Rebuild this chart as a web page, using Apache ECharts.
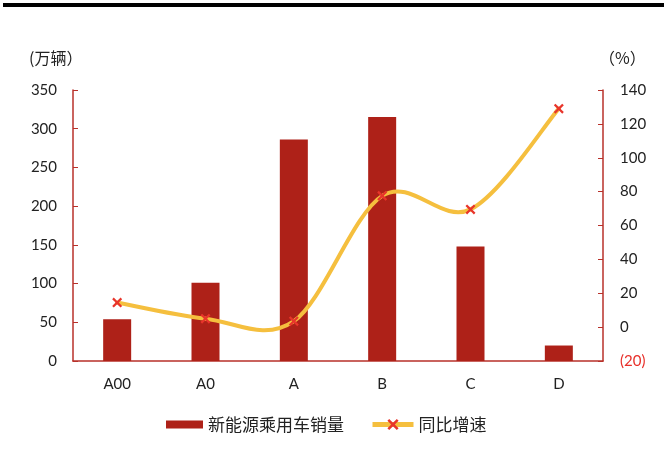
<!DOCTYPE html>
<html>
<head>
<meta charset="utf-8">
<script src="https://cdn.jsdelivr.net/npm/echarts@6/dist/echarts.min.js"></script>
<style>
  html, body { margin: 0; padding: 0; background: #fff; }
  #chart { width: 664px; height: 464px; }
</style>
</head>
<body>
<div id="chart"></div>
<script>
// Segment categories
const categories = ['A00', 'A0', 'A', 'B', 'C', 'D'];
// NEV passenger car sales (10k units)
const salesValues = [54, 101, 286, 315, 148, 20];
// Year-on-year growth (%)
const growthValues = [14.5, 5, 3.5, 77.5, 69.5, 129];

const salesName = '新能源乘用车销量';
const growthName = '同比增速';

const FONT = 'Lato, "Noto Sans CJK SC", sans-serif';
const CJK = '"Noto Sans CJK SC", sans-serif';
const AXIS_RED = '#B8312A';
const BAR_RED = '#AE2118';
const LINE_YELLOW = '#F5BF3E';
const MARK_RED = '#E8352B';

const xMark = 'path://M1.6,0 L5,3.4 L8.4,0 L10,1.6 L6.6,5 L10,8.4 L8.4,10 L5,6.6 L1.6,10 L0,8.4 L3.4,5 L0,1.6 Z';

// Smooth curve through the growth points (Catmull-Rom style bezier segments)
function renderGrowthCurve(params, api) {
  if (params.dataIndex !== 0) return null;
  const pts = growthValues.map(function (v, i) { return api.coord([i, v]); });
  const n = pts.length;
  const children = [];
  for (let i = 0; i < n - 1; i++) {
    const p0 = pts[Math.max(i - 1, 0)];
    const p1 = pts[i];
    const p2 = pts[i + 1];
    const p3 = pts[Math.min(i + 2, n - 1)];
    children.push({
      type: 'bezierCurve',
      shape: {
        x1: p1[0], y1: p1[1],
        cpx1: p1[0] + (p2[0] - p0[0]) / 6, cpy1: p1[1] + (p2[1] - p0[1]) / 6,
        cpx2: p2[0] - (p3[0] - p1[0]) / 6, cpy2: p2[1] - (p3[1] - p1[1]) / 6,
        x2: p2[0], y2: p2[1]
      },
      style: { fill: null, stroke: LINE_YELLOW, lineWidth: 4, lineCap: 'round' }
    });
  }
  return { type: 'group', children: children };
}

const chart = echarts.init(document.getElementById('chart'), null, { renderer: 'canvas' });

chart.setOption({
  animation: false,
  backgroundColor: '#fff',
  grid: { left: 73, right: 61, top: 90, bottom: 103 },
  graphic: [
    { type: 'rect', left: 3, top: 3, shape: { width: 661, height: 4 }, style: { fill: '#000' } },
    { type: 'text', left: 29, top: 50, style: { text: '(万辆）', font: '16px ' + CJK, fill: '#222' } },
    { type: 'text', left: 599, top: 50, style: { text: '（%）', font: '16px ' + CJK, fill: '#222' } }
  ],
  legend: [
    {
      left: 161, top: 411,
      itemWidth: 37, itemHeight: 8,
      textStyle: { fontFamily: CJK, fontSize: 17, color: '#222' },
      data: [{ name: salesName, icon: 'rect' }]
    },
    {
      left: 365, top: 411,
      itemWidth: 41, itemHeight: 14,
      textStyle: { fontFamily: CJK, fontSize: 17, color: '#222' },
      lineStyle: { color: LINE_YELLOW, width: 5, opacity: 1 },
      data: [{ name: growthName }]
    }
  ],
  xAxis: {
    type: 'category',
    data: categories,
    axisLine: { lineStyle: { color: AXIS_RED, width: 1.5 } },
    axisTick: { inside: true, length: 5, lineStyle: { color: AXIS_RED } },
    axisLabel: { color: '#222', fontFamily: FONT, fontSize: 15, margin: 16 }
  },
  yAxis: [
    {
      type: 'value',
      min: 0, max: 350, interval: 50,
      splitLine: { show: false },
      axisLine: { show: true, lineStyle: { color: AXIS_RED, width: 1.5 } },
      axisTick: { show: true, inside: true, length: 5, lineStyle: { color: AXIS_RED } },
      axisLabel: { color: '#222', fontFamily: FONT, fontSize: 15, margin: 16 }
    },
    {
      type: 'value',
      min: -20, max: 140, interval: 20,
      position: 'right',
      splitLine: { show: false },
      axisLine: { show: true, lineStyle: { color: AXIS_RED, width: 1.5 } },
      axisTick: { show: true, inside: true, length: 5, lineStyle: { color: AXIS_RED } },
      axisLabel: {
        color: '#222', fontFamily: FONT, fontSize: 15, margin: 17,
        formatter: function (v) { return v < 0 ? '{neg|(' + Math.abs(v) + ')}' : String(v); },
        rich: { neg: { color: '#E8302A', fontFamily: FONT, fontSize: 15 } }
      }
    }
  ],
  series: [
    {
      name: salesName,
      type: 'bar',
      data: salesValues,
      barWidth: 28,
      itemStyle: { color: BAR_RED },
      z: 2
    },
    {
      type: 'custom',
      xAxisIndex: 0,
      yAxisIndex: 1,
      data: growthValues.map(function (v, i) { return [i, v]; }),
      encode: { x: 0, y: 1 },
      renderItem: renderGrowthCurve,
      silent: true,
      z: 3
    },
    {
      name: growthName,
      type: 'line',
      yAxisIndex: 1,
      data: growthValues,
      symbol: xMark,
      symbolSize: 10,
      itemStyle: { color: MARK_RED },
      lineStyle: { color: LINE_YELLOW, width: 4, opacity: 0 },
      z: 4
    }
  ]
});
</script>
</body>
</html>
